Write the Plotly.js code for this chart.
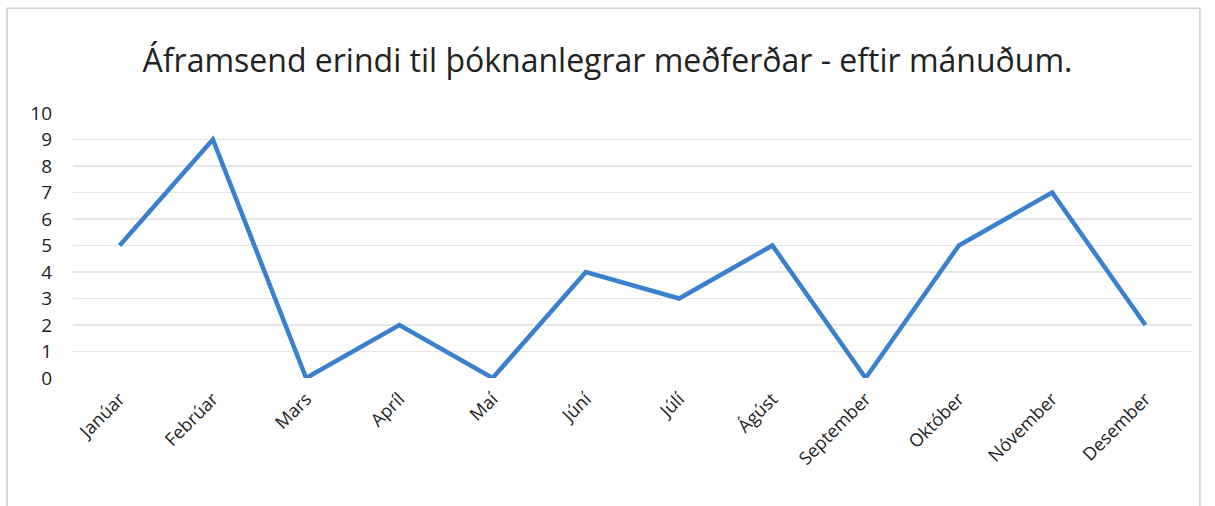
<!DOCTYPE html>
<html>
<head>
<meta charset="utf-8">
<script src="https://cdn.plot.ly/plotly-3.0.1.min.js"></script>
<style>html,body{margin:0;padding:0;background:#fff;}#chart{width:1215px;height:506px;}</style>
</head>
<body>
<div id="chart"></div>
<script>
const months = ["Janúar","Febrúar","Mars","Apríl","Maí","Júní","Júlí","Ágúst","September","Október","Nóvember","Desember"];
const counts = [5, 9, 0, 2, 0, 4, 3, 5, 0, 5, 7, 2];
const yTicks = [0,1,2,3,4,5,6,7,8,9,10];
const titleText = "Áframsend erindi til þóknanlegrar meðferðar - eftir mánuðum.";

const trace = {
  x: months, y: counts, type: "scatter", mode: "lines",
  line: {color: "#3b80cc", width: 4.5}, hoverinfo: "x+y"
};
const layout = {
  width: 1215, height: 506,
  margin: {l: 73, r: 23, t: 113, b: 128},
  paper_bgcolor: "#fff", plot_bgcolor: "#fff",
  font: {family: "Open Sans, sans-serif", color: "#222"},
  title: {text: titleText, font: {size: 32, color: "#222", family: "Open Sans, sans-serif"}, x: 0.5, xanchor: "center", y: 0.88, yanchor: "middle"},
  showlegend: false,
  xaxis: {
    type: "category", range: [-0.5, 11.5], tickangle: -45, showgrid: false, zeroline: false, showline: false,
    ticks: "", tickfont: {size: 18, color: "#222"}, ticklabelstandoff: 6, fixedrange: true
  },
  yaxis: {
    range: [0, 10], tickvals: yTicks, showgrid: true, gridcolor: "#e6e6e6", gridwidth: 1.5,
    zeroline: false, showline: false, ticks: "", tickfont: {size: 19, color: "#222"},
    ticklabelstandoff: 20, fixedrange: true
  },
  shapes: [{type: "rect", xref: "paper", yref: "paper", x0: -0.059, x1: 1.007, y0: -0.7, y1: 1.395,
    line: {color: "#d0d0d0", width: 1.5}, fillcolor: "rgba(0,0,0,0)"}]
};
Plotly.newPlot("chart", [trace], layout, {displayModeBar: false, staticPlot: true});
</script>
</body>
</html>
